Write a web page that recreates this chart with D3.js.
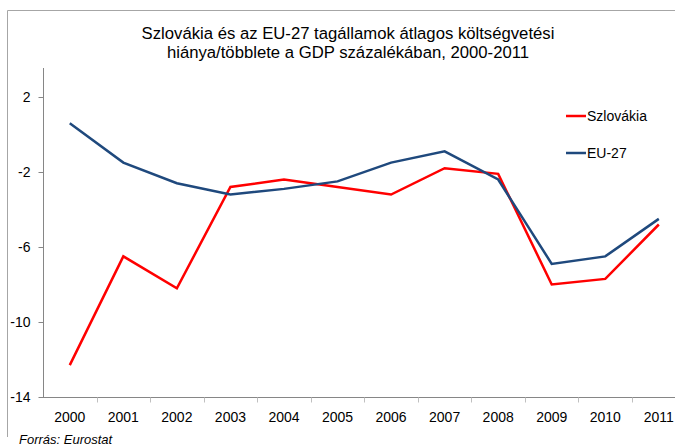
<!DOCTYPE html>
<html>
<head>
<meta charset="utf-8">
<script src="https://cdn.jsdelivr.net/npm/d3@7"></script>
<style>
  body { margin: 0; background: #fff; overflow: hidden; }
  svg { font-family: "Liberation Sans", Arial, sans-serif; }
</style>
</head>
<body>
<div id="chart"></div>
<script>
const years = ['2000', '2001', '2002', '2003', '2004', '2005', '2006', '2007', '2008', '2009', '2010', '2011'];
const slovakia = [-12.3, -6.5, -8.2, -2.8, -2.4, -2.8, -3.2, -1.8, -2.1, -8.0, -7.7, -4.8];
const eu27 = [0.6, -1.5, -2.6, -3.2, -2.9, -2.5, -1.5, -0.9, -2.4, -6.9, -6.5, -4.5];
const yTicks = [2, -2, -6, -10, -14];
const seriesNames = ['Szlovákia', 'EU-27'];
const seriesColors = ['#ff0000', '#1f497d'];

const width = 675, height = 447;

const svg = d3.select("#chart")
  .append("svg")
    .attr("width", width)
    .attr("height", height);

// outer frame (only left and top visible in the crop)
svg.append("path")
  .attr("d", "M7.5,437 L7.5,10.5 L675,10.5")
  .attr("fill", "none")
  .attr("stroke", "#a6a6a6")
  .attr("stroke-width", 1);

// title
const title = svg.append("text")
  .attr("text-anchor", "middle")
  .style("font-size", "16.7px")
  .attr("fill", "#000");
title.append("tspan").attr("x", 348).attr("y", 39).text("Szlovákia és az EU-27 tagállamok átlagos költségvetési");
title.append("tspan").attr("x", 348).attr("y", 58).text("hiánya/többlete a GDP százalékában, 2000-2011");

// scales
const x = d3.scaleBand()
  .domain(years)
  .range([43, 43 + 12 * 53.55])
  .padding(0);

const y = d3.scaleLinear()
  .domain([-14, 2])
  .range([397, 97]);

// y axis
const yAxis = svg.append("g")
  .attr("transform", "translate(43.5,0)")
  .call(d3.axisLeft(y).tickValues(yTicks).tickFormat(d => String(d))
    .tickSize(5).tickPadding(8).tickSizeOuter(0));
yAxis.select(".domain").remove();
yAxis.append("line")
  .attr("x1", 0).attr("x2", 0)
  .attr("y1", 68).attr("y2", y(-14))
  .attr("stroke", "#868686");
yAxis.selectAll(".tick line").attr("stroke", "#868686");
yAxis.selectAll(".tick text")
  .attr("fill", "#000")
  .style("font-size", "14px")
  .style("font-family", "'Liberation Sans', Arial, sans-serif");

// x axis
const xAxis = svg.append("g")
  .attr("transform", `translate(0,${y(-14) + 0.5})`);
xAxis.append("line")
  .attr("x1", 43).attr("x2", width)
  .attr("stroke", "#868686");
xAxis.selectAll(".xtick")
  .data(years.slice(1).concat(['end']))
  .join("line")
    .attr("class", "xtick")
    .attr("x1", (d, i) => Math.round(x(years[0]) + (i + 1) * x.bandwidth()) + 0.5)
    .attr("x2", (d, i) => Math.round(x(years[0]) + (i + 1) * x.bandwidth()) + 0.5)
    .attr("y1", 0).attr("y2", 5)
    .attr("stroke", "#c0c0c0");
xAxis.selectAll(".xlabel")
  .data(years)
  .join("text")
    .attr("class", "xlabel")
    .attr("x", d => x(d) + x.bandwidth() / 2)
    .attr("y", 24)
    .attr("text-anchor", "middle")
    .style("font-size", "14px")
    .text(d => d);

// lines
const line = d3.line()
  .x((d, i) => x(years[i]) + x.bandwidth() / 2)
  .y(d => y(d));

[slovakia, eu27].forEach((vals, i) => {
  svg.append("path")
    .attr("d", line(vals))
    .attr("fill", "none")
    .attr("stroke", seriesColors[i])
    .attr("stroke-width", 2.5)
    .attr("stroke-linejoin", "miter");
});

// legend
const legendY = [116, 153];
seriesNames.forEach((name, i) => {
  svg.append("line")
    .attr("x1", 566).attr("x2", 586)
    .attr("y1", legendY[i]).attr("y2", legendY[i])
    .attr("stroke", seriesColors[i])
    .attr("stroke-width", 2.5);
  svg.append("text")
    .attr("x", 587)
    .attr("y", legendY[i] + 5)
    .style("font-size", "14px")
    .text(name);
});

// source
svg.append("text")
  .attr("x", 19)
  .attr("y", 444)
  .style("font-size", "13px")
  .style("font-style", "italic")
  .text("Forrás: Eurostat");
</script>
</body>
</html>
